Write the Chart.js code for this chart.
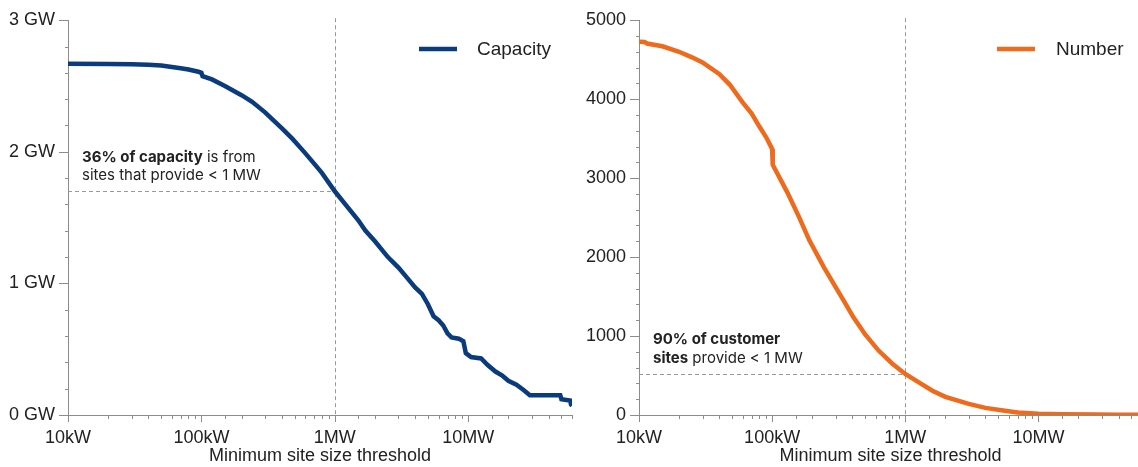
<!DOCTYPE html>
<html><head><meta charset="utf-8">
<script src="https://cdn.jsdelivr.net/npm/chart.js@4/dist/chart.umd.min.js"></script>
<style>
html,body{margin:0;padding:0;background:#fff;overflow:hidden;width:1138px;height:467px;position:relative;}
#wl{position:absolute;left:0;top:0;width:584px;height:467px;}
#wr{position:absolute;left:570px;top:0;width:584px;height:467px;}
</style></head><body>
<div id="wl"><canvas id="cl"></canvas></div>
<div id="wr"><canvas id="cr"></canvas></div>
<script>
// ---- data (threshold in W) ----
const capThresholdsW = [1e4,2e4,3e4,4e4,5e4,6e4,7e4,8e4,9.5e4,1e5,1.02e5,1.2e5,1.5e5,2e5,2.4e5,3e5,4e5,4.8e5,5e5,6e5,7e5,8e5,1e6,1.2e6,1.5e6,1.7e6,2e6,2.5e6,3e6,3.5e6,4e6,4.5e6,5e6,5.5e6,6e6,6.5e6,7e6,7.5e6,8.5e6,9.2e6,9.6e6,1.05e7,1.25e7,1.4e7,1.6e7,1.8e7,2e7,2.3e7,2.6e7,2.9e7,4.9e7,5e7,5.8e7,5.9e7,6e7];
const capacityGW = [2.67,2.668,2.665,2.662,2.655,2.645,2.635,2.625,2.608,2.60,2.575,2.55,2.50,2.43,2.38,2.30,2.18,2.10,2.08,1.99,1.91,1.84,1.70,1.60,1.48,1.40,1.32,1.20,1.12,1.04,0.97,0.92,0.84,0.75,0.72,0.68,0.62,0.59,0.58,0.56,0.47,0.44,0.43,0.38,0.33,0.30,0.26,0.23,0.19,0.15,0.15,0.12,0.11,0.08,0.07];
const numThresholdsW = [1e4,1.1e4,1.15e4,1.5e4,2e4,2.5e4,3e4,4e4,4.8e4,6e4,7e4,8e4,9e4,1e5,1.01e5,1.3e5,1.6e5,1.9e5,2.45e5,3e5,3.5e5,4.07e5,5e5,6.3e5,8e5,1e6,1.3e6,1.6e6,2e6,3e6,4e6,5.6e6,7e6,1e7,1.5e7,2.7e7,4e7,6e7];
const siteCount = [4728,4725,4705,4670,4600,4530,4465,4320,4185,3960,3820,3656,3520,3370,3170,2820,2500,2215,1870,1620,1430,1240,1020,816,650,520,400,308,230,140,90,55,32,17,10,5,3,2];
const xTickValues = [1e4,1e5,1e6,1e7];
const xTickText = ['10kW','100kW','1MW','10MW'];
const refThresholdW = [1e6];
const capAtThreshold = [1.70];
const numAtThreshold = [520];
const leftNote = [[['36% of capacity',true],[' is from',false]],[['sites that provide < 1 MW',false]]];
const rightNote = [[['90% of customer',true]],[['sites',true],[' provide < 1 MW',false]]];

const AXIS = '#8c8c8c', TXT = '#222222';
const NAVY = '#0a3c7d', ORANGE = '#ee6a1c';
const tickFont = {family:"'Liberation Sans', Arial, sans-serif", size:18};
const yTickFont = {family:"'Liberation Sans', Arial, sans-serif", size:18, lineHeight:0.8};

function xLabel(v){
  for(let i=0;i<xTickValues.length;i++){ if(Math.abs(v/xTickValues[i]-1)<1e-6) return xTickText[i]; }
  return '';
}

const tickMarks = {
  id:'tickMarks',
  afterDraw(chart, args, opts){
    const ctx=chart.ctx, ca=chart.chartArea, xs=chart.scales.x, ys=chart.scales.y;
    ctx.save(); ctx.strokeStyle=AXIS; ctx.lineWidth=1;
    xs.ticks.forEach(t=>{
      const p=Math.round(xs.getPixelForValue(t.value))+0.5;
      const lg=Math.log10(t.value), major=Math.abs(lg-Math.round(lg))<1e-6;
      ctx.beginPath(); ctx.moveTo(p,ca.bottom); ctx.lineTo(p,ca.bottom+(major?7:4)); ctx.stroke();
    });
    ys.ticks.forEach(t=>{
      const p=Math.round(ys.getPixelForValue(t.value))+0.5;
      const q=t.value/opts.major, major=Math.abs(q-Math.round(q))<1e-6;
      ctx.beginPath(); ctx.moveTo(ca.left,p); ctx.lineTo(ca.left-(major?9:3),p); ctx.stroke();
    });
    ctx.restore();
  }
};

const refLines = {
  id:'refLines',
  beforeDatasetsDraw(chart, args, opts){
    const ctx=chart.ctx, ca=chart.chartArea, xs=chart.scales.x, ys=chart.scales.y;
    const px=Math.round(xs.getPixelForValue(opts.x))+0.5, py=Math.round(ys.getPixelForValue(opts.y))+0.5;
    ctx.save(); ctx.strokeStyle='#9a9a9a'; ctx.lineWidth=1; ctx.setLineDash([4,3]);
    ctx.beginPath(); ctx.moveTo(px,ca.top-2); ctx.lineTo(px,ca.bottom); ctx.stroke();
    ctx.beginPath(); ctx.moveTo(ca.left,py); ctx.lineTo(px,py); ctx.stroke();
    ctx.restore();
    // note
    ctx.save(); ctx.fillStyle=TXT; ctx.textBaseline='middle'; ctx.textAlign='left';
    opts.note.forEach((line,i)=>{
      let x=ca.left+opts.noteDx; const y=ys.getPixelForValue(opts.noteY[i]);
      line.forEach(([s,b])=>{
        ctx.font=(b?'700 ':'400 ')+opts.noteSize+"px Inter, 'Noto Sans', sans-serif";
        ctx.fillText(s,x,y); x+=ctx.measureText(s).width;
      });
    });
    ctx.restore();
  }
};

const lineLegend = {
  id:'lineLegend',
  afterDraw(chart, args, opts){
    const ctx=chart.ctx, ca=chart.chartArea, ds=chart.data.datasets[0];
    const x0=ca.right-opts.dx;
    ctx.save(); ctx.strokeStyle=ds.borderColor; ctx.lineWidth=4.5;
    ctx.beginPath(); ctx.moveTo(x0,opts.y); ctx.lineTo(x0+38,opts.y); ctx.stroke();
    ctx.fillStyle=TXT; ctx.font="19px 'Liberation Sans', Arial, sans-serif"; ctx.textBaseline='middle';
    ctx.fillText(ds.label,x0+opts.gap,opts.y+1);
    ctx.restore();
  }
};

function makeChart(id, label, color, xs, ys, yMax, yStep, yMajor, yFmt, yAxisW, refY, note, noteY, legendDx, legendGap){
  return new Chart(document.getElementById(id), {
    type:'line',
    data:{datasets:[{label, data:xs.map((x,i)=>({x, y:ys[i]})), borderColor:color, backgroundColor:color,
      borderWidth:4.5, pointRadius:0, tension:0, fill:false}]},
    options:{
      responsive:true, maintainAspectRatio:false, animation:false,
      events:[],
      layout:{padding:{top:17,left:0,right:0,bottom:0}},
      plugins:{legend:{display:false}, tooltip:{enabled:false},
        tickMarks:{major:yMajor},
        refLines:{x:refThresholdW[0], y:refY, note, noteY, noteDx:14, noteSize:15},
        lineLegend:{dx:legendDx, gap:legendGap, y:49}},
      scales:{
        x:{type:'logarithmic', min:1e4, max:6e7,
          grid:{display:true, drawOnChartArea:false, drawTicks:false},
          border:{display:true, color:AXIS, width:1},
          ticks:{autoSkip:false, maxRotation:0, padding:12, color:TXT, font:tickFont, callback:(v)=>xLabel(v)},
          title:{display:true, text:'Minimum site size threshold', color:TXT, font:tickFont, padding:{top:0,bottom:0}},
          afterFit:(s)=>{s.height=52;}},
        y:{type:'linear', min:0, max:yMax,
          grid:{display:true, drawOnChartArea:false, drawTicks:false},
          border:{display:true, color:AXIS, width:1},
          ticks:{stepSize:yStep, maxTicksLimit:100, autoSkip:false, padding:13, color:TXT, font:yTickFont,
            callback:(v)=>{const q=v/yMajor; return Math.abs(q-Math.round(q))<1e-6 ? yFmt(v) : '';}},
          afterFit:(s)=>{s.width=yAxisW;}}
      }
    },
    plugins:[refLines, tickMarks, lineLegend]
  });
}

makeChart('cl','Capacity',NAVY,capThresholdsW,capacityGW,3,0.2,1,(v)=>Math.round(v)+' GW',68,
  capAtThreshold[0], leftNote, [1.96,1.82], 153, 58);
makeChart('cr','Number',ORANGE,numThresholdsW,siteCount,5000,200,1000,(v)=>String(Math.round(v)),69,
  numAtThreshold[0], rightNote, [962,718], 145, 59);
</script>
</body></html>
